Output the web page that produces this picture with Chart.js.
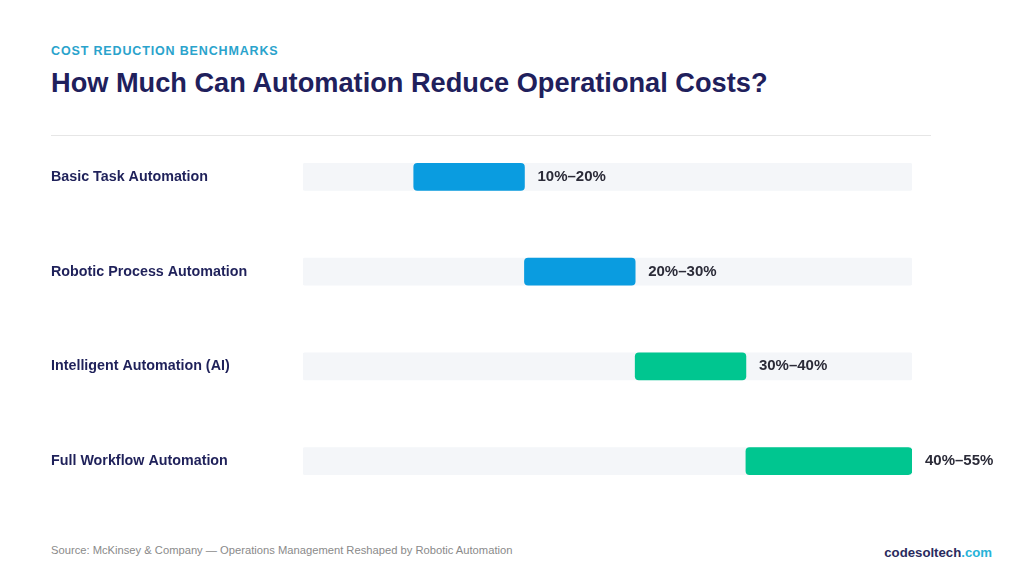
<!DOCTYPE html>
<html>
<head>
<meta charset="utf-8">
<script src="https://cdn.jsdelivr.net/npm/chart.js@4.4.1/dist/chart.umd.min.js"></script>
<style>
  html, body { margin:0; padding:0; background:#fff; width:1024px; height:584px; overflow:hidden; font-family:"Liberation Sans", Arial, sans-serif; }
  .kicker { position:absolute; left:51px; top:44px; font-size:12.5px; font-weight:bold; letter-spacing:0.85px; color:#2aa3cc; }
  .title { position:absolute; left:51px; top:67px; font-size:27.2px; font-weight:bold; color:#1f205c; }
  .rule { position:absolute; left:51px; top:135px; width:880px; height:1px; background:#e6e6e6; }
  .source { position:absolute; left:51px; top:544px; font-size:11.2px; color:#8a8a8a; }
  .brand { position:absolute; right:32px; top:545px; font-size:13.2px; font-weight:bold; color:#2a2b5e; }
  .brand span { color:#27b3d8; }
  #wrap { position:absolute; left:0; top:121px; width:1024px; height:396px; }
</style>
</head>
<body>
<div class="kicker">COST REDUCTION BENCHMARKS</div>
<div class="title">How Much Can Automation Reduce Operational Costs?</div>
<div class="rule"></div>
<div id="wrap"><canvas id="c"></canvas></div>
<div class="source">Source: McKinsey &amp; Company — Operations Management Reshaped by Robotic Automation</div>
<div class="brand">codesoltech<span>.com</span></div>
<script>
const categories = ["Basic Task Automation", "Robotic Process Automation", "Intelligent Automation (AI)", "Full Workflow Automation"];
const rangeLow = [10, 20, 30, 40];
const rangeHigh = [20, 30, 40, 55];
const rangeLabels = ["10%–20%", "20%–30%", "30%–40%", "40%–55%"];
const barColors = ["#0a9ce0", "#0a9ce0", "#00c690", "#00c690"];
const scaleMax = 55;

const valueLabels = {
  id: "valueLabels",
  afterDatasetsDraw(chart) {
    const ctx = chart.ctx;
    const meta = chart.getDatasetMeta(1);
    ctx.save();
    ctx.font = "bold 15px 'Liberation Sans', Arial, sans-serif";
    ctx.fillStyle = "#2b2b38";
    ctx.textBaseline = "middle";
    ctx.textAlign = "left";
    meta.data.forEach((bar, i) => {
      const right = Math.max(bar.x, bar.base);
      ctx.fillText(rangeLabels[i], right + 13, bar.y);
    });
    ctx.restore();
  }
};

new Chart(document.getElementById("c"), {
  type: "bar",
  data: {
    labels: categories,
    datasets: [
      {
        data: categories.map(() => [0, scaleMax]),
        backgroundColor: "#f4f6f9",
        borderRadius: 2,
        borderSkipped: false,
        barThickness: 27,
        grouped: false,
        order: 2
      },
      {
        data: rangeLow.map((lo, i) => [lo, rangeHigh[i]]),
        backgroundColor: barColors,
        borderRadius: 4,
        borderSkipped: false,
        barThickness: 27,
        grouped: false,
        order: 1
      }
    ]
  },
  options: {
    indexAxis: "y",
    responsive: true,
    maintainAspectRatio: false,
    animation: false,
    layout: { padding: { left: 51, right: 112, top: 0, bottom: 0 } },
    plugins: { legend: { display: false }, tooltip: { enabled: false } },
    scales: {
      x: { min: 0, max: scaleMax, display: false, grid: { display: false } },
      y: {
        grid: { display: false, drawTicks: false },
        border: { display: false },
        ticks: {
          crossAlign: "far",
          padding: 0,
          color: "#1f215a",
          font: { family: "'Liberation Sans', Arial, sans-serif", size: 14.3, weight: "bold" }
        },
        afterFit(scale) { scale.width = 252; }
      }
    }
  },
  plugins: [valueLabels]
});
</script>
</body>
</html>
